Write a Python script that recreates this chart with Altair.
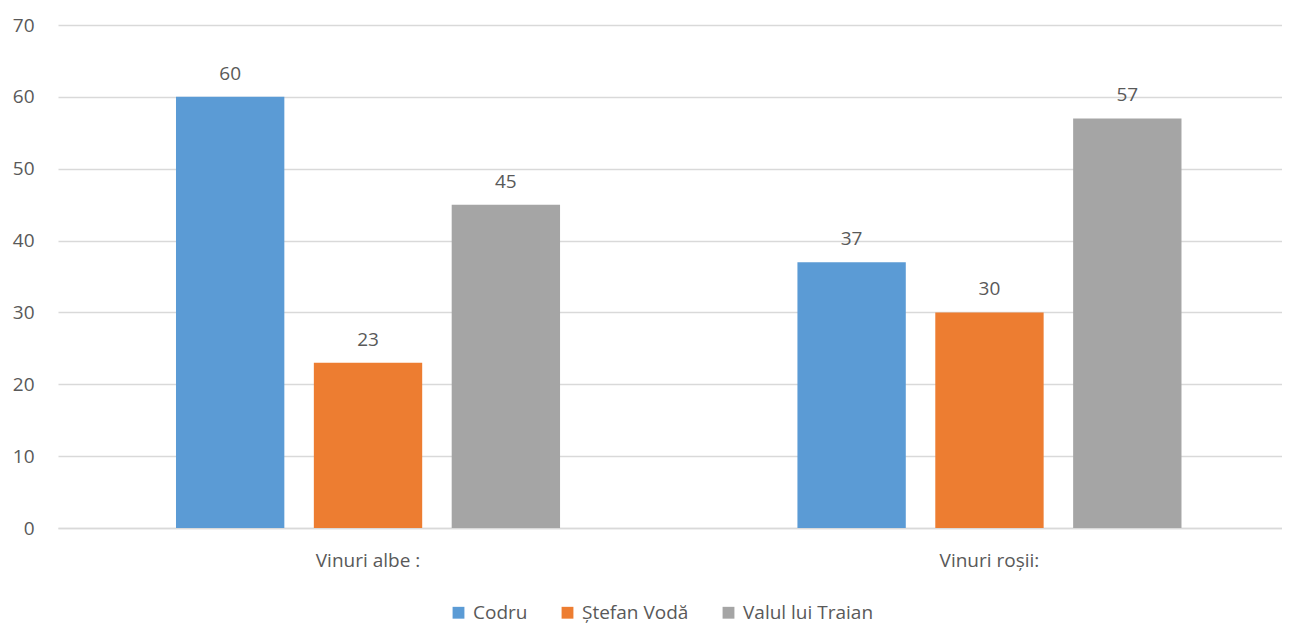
import altair as alt
import pandas as pd

categories = ["Vinuri albe :", "Vinuri roșii:"]
series = ["Codru", "Ștefan Vodă", "Valul lui Traian"]
codru = [60, 37]
stefan_voda = [23, 30]
valul_lui_traian = [45, 57]
colors = ["#5B9BD5", "#ED7D31", "#A5A5A5"]

rows = []
for i, c in enumerate(categories):
    for s, vals in zip(series, [codru, stefan_voda, valul_lui_traian]):
        rows.append({"cat": c, "series": s, "value": vals[i]})
df = pd.DataFrame(rows)

FONT = "Open Sans"
TXT = "#595959"

base = alt.Chart(df).encode(
    x=alt.X("cat:N", sort=categories, title=None,
            scale=alt.Scale(paddingInner=0.382, paddingOuter=0.1758, align=0.54),
            axis=alt.Axis(labelAngle=0, labelFontSize=19, labelColor=TXT, labelFont=FONT,
                          ticks=False, domainColor="#D9D9D9", domainWidth=1.5,
                          labelPadding=23)),
    xOffset=alt.XOffset("series:N", sort=series,
                        scale=alt.Scale(paddingInner=0.214, paddingOuter=0)),
    y=alt.Y("value:Q", title=None,
            scale=alt.Scale(domain=[0, 70]),
            axis=alt.Axis(values=[0, 10, 20, 30, 40, 50, 60, 70], labelFontSize=19,
                          labelColor=TXT, labelFont=FONT, ticks=False, domain=False,
                          gridColor="#D9D9D9", gridWidth=1.3, labelPadding=24)),
)

bars = base.mark_bar().encode(
    color=alt.Color("series:N", sort=series,
                    scale=alt.Scale(domain=series, range=colors),
                    legend=alt.Legend(title=None, orient="none", direction="horizontal",
                                      legendX=391, legendY=578,
                                      symbolType="square", symbolSize=140, symbolStrokeWidth=0,
                                      labelFontSize=19, labelColor=TXT, labelFont=FONT,
                                      labelOffset=5, columnPadding=30))
)

labels = base.mark_text(baseline="alphabetic", dy=-17, fontSize=19, color=TXT, font=FONT).encode(
    text="value:Q"
)

chart = (bars + labels).properties(
    width=1224, height=503,
    autosize=alt.AutoSizeParams(type="none"),
    padding={"left": 50, "top": 17, "right": 0, "bottom": 100},
).configure_view(stroke=None)

chart.save("out.html", embed_options={"renderer": "svg", "actions": False})
